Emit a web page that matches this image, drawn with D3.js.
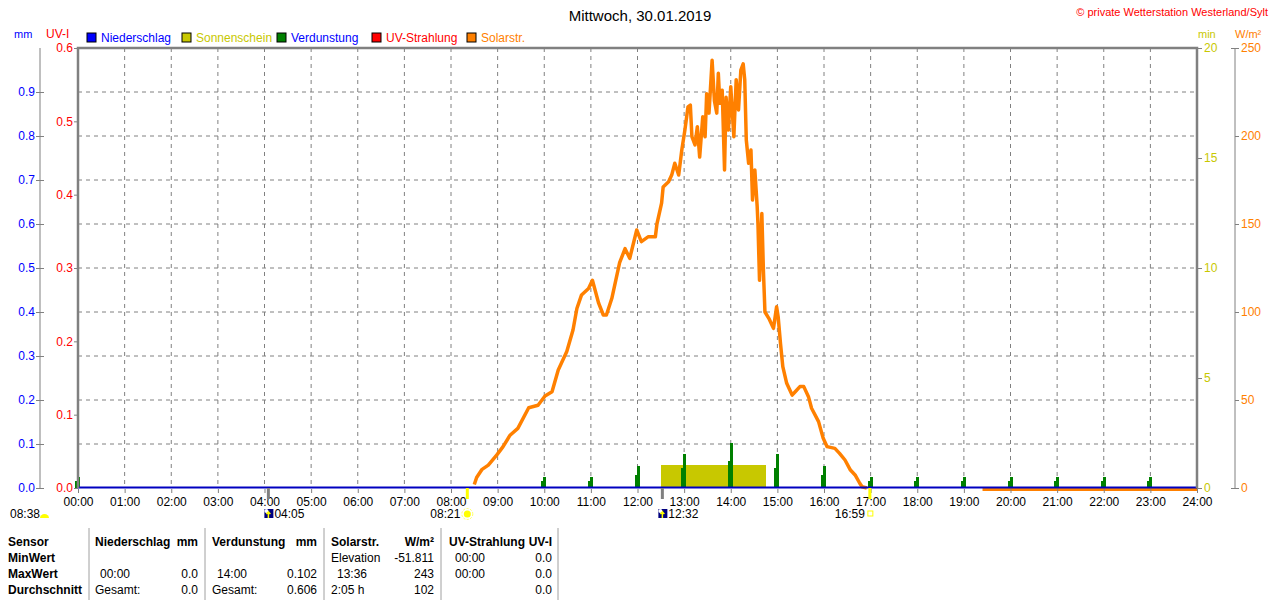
<!DOCTYPE html>
<html>
<head>
<meta charset="utf-8">
<script src="https://cdn.jsdelivr.net/npm/d3@7"></script>
<style>
  body { margin: 0; background: #fff; }
  svg { display: block; font-family: "Liberation Sans", Arial, sans-serif; }
  .grid line { stroke: #808080; stroke-dasharray: 4,4; }
  .tbl { font-size: 12px; fill: #000; }
  .tbl.b { font-weight: bold; }
</style>
</head>
<body>
<svg id="chart" width="1280" height="600"></svg>
<script>
// Solar radiation W/m² (time, value)
const solarTimes = ["08:30","08:33","08:40","08:48","08:59","09:07","09:16","09:26","09:40","09:52",
  "10:01","10:10","10:18","10:29","10:37","10:42","10:48","10:57","11:02","11:10","11:16","11:20",
  "11:27","11:33","11:37","11:44","11:50","11:59","12:05","12:14","12:23","12:25","12:31","12:33",
  "12:40","12:44","12:48","12:53","12:57","13:01","13:05","13:08","13:10","13:14","13:17","13:20",
  "13:24","13:27","13:29","13:32","13:36","13:39","13:42","13:44","13:46","13:49","13:52","13:54",
  "13:57","14:00","14:04","14:07","14:10","14:13","14:16","14:18","14:20","14:23","14:26","14:28",
  "14:31","14:34","14:35","14:37","14:40","14:42","14:44","14:49","14:53","14:55","14:59","15:01",
  "15:04","15:07","15:12","15:19","15:23","15:29","15:34","15:40","15:44","15:53","15:59","16:04",
  "16:14","16:20","16:27","16:34","16:40","16:46","16:49","16:55"];
const solarValues = [2,6,10.6,13,18.8,23.5,30,33.9,45.6,47,
  52.3,54.7,67,77.5,89.8,102,109.7,113.4,118,105,98.3,98.3,
  107.8,120,128,136,130.5,146.6,140,142.8,142.8,150,161.8,171,
  174,177.8,184.5,177.8,192,203.4,216.6,217.6,199.6,194.9,205.3,188,
  211,199.6,224,213,243,220,213,235.6,218.6,226,180.7,222,
  203.4,228,199.6,232,214.8,237.5,241,232,197.7,184.5,192,163.6,
  180.7,160,150.4,118,156,123.9,100,96.4,92.6,90.7,103,97.3,
  82.2,69,59.5,52.8,54.7,57.6,57.6,51.9,45.3,37.7,28.2,23.5,
  22.5,19.7,15.9,10.2,7.4,2.7,0.7,0];
const solarNightTimes = ["19:24","24:00"];
const solarNightValues = [0,0];

// Verdunstung mm (hourly)
const evapTimes = ["00:00","10:00","11:00","12:00","13:00","14:00","15:00","16:00",
  "17:00","18:00","19:00","20:00","21:00","22:00","23:00"];
const evapValues = [0.025,0.025,0.025,0.05,0.077,0.102,0.077,0.05,
  0.025,0.025,0.025,0.025,0.025,0.025,0.025];

// Sonnenschein min (15-min bins)
const sunTimes = ["12:30","12:45","13:00","13:15","13:30","13:45","14:00","14:15","14:30"];
const sunValues = [1.05,1.05,1.05,1.05,1.05,1.05,1.05,1.05,1.05];
const sunBin = 15;

// Niederschlag / UV over whole day
const rainTimes = ["00:00","24:00"];
const rainValues = [0,0];

const hourLabels = d3.range(0, 25).map(h => String(h).padStart(2, "0") + ":00");
const mmTicks = [0,0.1,0.2,0.3,0.4,0.5,0.6,0.7,0.8,0.9];
const uvTicks = [0,0.1,0.2,0.3,0.4,0.5,0.6];
const minTicks = [0,5,10,15,20];
const wTicks = [0,50,100,150,200,250];

const legend = [
  { name: "Niederschlag", box: "#0000ff", text: "#0000ff" },
  { name: "Sonnenschein", box: "#c8c800", text: "#c8c800" },
  { name: "Verdunstung", box: "#008000", text: "#0000ff" },
  { name: "UV-Strahlung", box: "#ff0000", text: "#ff0000" },
  { name: "Solarstr.", box: "#ff8000", text: "#ff8000" }
];

function toMin(s) {
  const p = s.split(":");
  return +p[0] * 60 + +p[1];
}

const svg = d3.select("#chart");
const L = 78, R = 1197, T = 48, B = 488;

const x = d3.scaleLinear().domain([0, 1440]).range([L, R]);
const yW = d3.scaleLinear().domain([0, 250]).range([B, T]);
const yMm = d3.scaleLinear().domain([0, 1]).range([B, T]);
const yUV = d3.scaleLinear().domain([0, 0.6]).range([B, T]);
const yMin = d3.scaleLinear().domain([0, 20]).range([B, T]);

// grid
const grid = svg.append("g").attr("class", "grid");
grid.selectAll(".v").data(d3.range(60, 1440, 60)).enter().append("line")
  .attr("x1", d => x(d)).attr("x2", d => x(d)).attr("y1", T).attr("y2", B);
grid.selectAll(".h").data(d3.range(1, 10).map(d => d / 10)).enter().append("line")
  .attr("x1", L).attr("x2", R).attr("y1", d => yMm(d)).attr("y2", d => yMm(d));

// sunshine bars
svg.append("g").attr("shape-rendering", "crispEdges")
  .selectAll("rect").data(sunTimes).enter().append("rect")
  .attr("x", d => x(toMin(d)))
  .attr("width", d => x(toMin(d) + sunBin) - x(toMin(d)) + 0.6)
  .attr("y", (d, i) => yMin(sunValues[i]))
  .attr("height", (d, i) => B - yMin(sunValues[i]))
  .attr("fill", "#c8c800");

// evaporation bars
const evap = svg.append("g").attr("shape-rendering", "crispEdges");
evap.selectAll(".lo").data(evapTimes).enter().append("rect")
  .attr("x", d => x(toMin(d)) - 3).attr("width", 3)
  .attr("y", (d, i) => yMm(evapValues[i] * 0.6))
  .attr("height", (d, i) => B - yMm(evapValues[i] * 0.6))
  .attr("fill", "#008000");
evap.selectAll(".hi").data(evapTimes).enter().append("rect")
  .attr("x", d => x(toMin(d)) - 1).attr("width", 3)
  .attr("y", (d, i) => yMm(evapValues[i]))
  .attr("height", (d, i) => B - yMm(evapValues[i]))
  .attr("fill", "#008000");

// solar line
const line = d3.line().x(d => x(toMin(d[0]))).y(d => yW(d[1]));
svg.append("path")
  .datum(solarTimes.map((t, i) => [t, solarValues[i]]))
  .attr("d", line).attr("fill", "none").attr("stroke", "#ff8000")
  .attr("stroke-width", 3.5).attr("stroke-linejoin", "round");
svg.append("path")
  .datum(solarNightTimes.map((t, i) => [t, solarNightValues[i]]))
  .attr("d", d3.line().x(d => x(toMin(d[0]))).y(d => yW(d[1]) + 1.5))
  .attr("fill", "none").attr("stroke", "#ff8000").attr("stroke-width", 3);

// rain line
svg.append("path")
  .datum(rainTimes.map((t, i) => [t, rainValues[i]]))
  .attr("d", d3.line().x(d => x(toMin(d[0]))).y(d => yMm(d[1]) - 0.5))
  .attr("fill", "none").attr("stroke", "#0000c0").attr("stroke-width", 2);

// frame
svg.append("path")
  .attr("d", `M${L},${B}V${T}H${R}V${B}`)
  .attr("fill", "none").attr("stroke", "#808080").attr("stroke-width", 2.5);

// x axis
const xAxis = svg.append("g").attr("transform", `translate(0,${B + 1})`)
  .call(d3.axisBottom(x).tickValues(d3.range(0, 1441, 60)).tickSize(4).tickSizeOuter(0)
    .tickFormat((d, i) => hourLabels[i]));
xAxis.select(".domain").remove();
xAxis.selectAll("line").attr("stroke", "#808080");
xAxis.selectAll("text").attr("fill", "#000").attr("font-size", 12).attr("dy", 10)
  .attr("font-family", "Liberation Sans, Arial, sans-serif");

function styleAxis(g, color) {
  g.selectAll("line").attr("stroke", "#808080");
  g.select(".domain").attr("stroke", "#808080");
  g.selectAll("text").attr("fill", color).attr("font-size", 12)
    .attr("font-family", "Liberation Sans, Arial, sans-serif");
}

// mm axis
const mmAxis = svg.append("g").attr("transform", "translate(40,0)")
  .call(d3.axisRight(yMm).tickValues(mmTicks).tickSize(4).tickSizeOuter(0)
    .tickFormat(d3.format(".1f")));
mmAxis.select(".domain").attr("d", `M0,${T}V${B}`);
mmAxis.selectAll(".tick line").attr("x1", -4);
mmAxis.selectAll(".tick text").attr("x", -5).attr("text-anchor", "end");
styleAxis(mmAxis, "#0000ff");

// UV axis
const uvAxis = svg.append("g").attr("transform", `translate(${L},0)`)
  .call(d3.axisLeft(yUV).tickValues(uvTicks).tickSize(4).tickSizeOuter(0)
    .tickFormat(d3.format(".1f")));
uvAxis.select(".domain").remove();
uvAxis.selectAll(".tick text").attr("x", -5);
styleAxis(uvAxis, "#ff0000");

// min axis
const minAxis = svg.append("g").attr("transform", `translate(${R},0)`)
  .call(d3.axisRight(yMin).tickValues(minTicks).tickSize(5).tickSizeOuter(0));
minAxis.select(".domain").remove();
minAxis.selectAll(".tick text").attr("x", 7);
styleAxis(minAxis, "#c8c800");

// W/m² axis
const wAxis = svg.append("g").attr("transform", "translate(1235,0)")
  .call(d3.axisRight(yW).tickValues(wTicks).tickSize(4).tickSizeOuter(0));
wAxis.select(".domain").attr("d", `M0,${T}V${B}`);
wAxis.selectAll(".tick line").filter(d => d === 0 || d === 250).attr("x1", -4);
wAxis.selectAll(".tick text").attr("x", 6);
styleAxis(wAxis, "#ff8000");

// titles / units
svg.append("text").attr("x", 640).attr("y", 21).attr("text-anchor", "middle")
  .attr("font-size", 15).text("Mittwoch, 30.01.2019");
svg.append("text").attr("x", 1268).attr("y", 16).attr("text-anchor", "end")
  .attr("font-size", 11).attr("fill", "#ff0000").text("© private Wetterstation Westerland/Sylt");
svg.append("text").attr("x", 14).attr("y", 38).attr("font-size", 11).attr("fill", "#0000ff").text("mm");
svg.append("text").attr("x", 46).attr("y", 38).attr("font-size", 12).attr("fill", "#ff0000").text("UV-I");
svg.append("text").attr("x", 1198).attr("y", 38).attr("font-size", 11).attr("fill", "#c8c800").text("min");
svg.append("text").attr("x", 1235).attr("y", 38).attr("font-size", 11).attr("fill", "#ff8000").text("W/m²");

// legend
const legX = [87, 182, 277, 372, 467];
const lg = svg.append("g").selectAll("g").data(legend).enter().append("g")
  .attr("transform", (d, i) => `translate(${legX[i]},33)`);
lg.append("rect").attr("width", 9).attr("height", 9).attr("fill", d => d.box)
  .attr("stroke", "#000").attr("stroke-width", 1);
lg.append("text").attr("x", 14).attr("y", 9).attr("font-size", 12)
  .attr("fill", d => d.text).text(d => d.name);

// sun / moon events
const events = [
  { t: "04:05", color: "#808080", label: "04:05", icon: "moon" },
  { t: "08:21", color: "#ffff00", label: "08:21", icon: "sun" },
  { t: "12:32", color: "#808080", label: "12:32", icon: "moon" },
  { t: "16:59", color: "#ffff00", label: "16:59", icon: "set" }
];
const ev = svg.append("g");
events.forEach(e => {
  const ex = x(toMin(e.t));
  ev.append("line").attr("x1", ex).attr("x2", ex).attr("y1", B).attr("y2", B + 11)
    .attr("stroke", e.color).attr("stroke-width", 3);
  if (e.icon === "moon") {
    ev.append("rect").attr("x", ex - 4).attr("y", 509).attr("width", 9).attr("height", 9).attr("fill", "#000080");
    ev.append("circle").attr("cx", ex - 2).attr("cy", 511).attr("r", 2).attr("fill", "#fff");
    ev.append("path").attr("d", `M${ex},${518}V${512}l-2,2M${ex},${512}l2,2`)
      .attr("stroke", "#ffff00").attr("stroke-width", 1.5).attr("fill", "none");
    ev.append("text").attr("x", ex + 6).attr("y", 518).attr("font-size", 12).text(e.label);
  } else if (e.icon === "sun") {
    ev.append("circle").attr("cx", ex).attr("cy", 514).attr("r", 3.5).attr("fill", "#ffff00");
    ev.append("circle").attr("cx", ex).attr("cy", 514).attr("r", 5.5).attr("fill", "none")
      .attr("stroke", "#ffff60").attr("stroke-width", 1).attr("stroke-dasharray", "2,1.5");
    ev.append("text").attr("x", ex - 7).attr("y", 518).attr("text-anchor", "end").attr("font-size", 12).text(e.label);
  } else {
    ev.append("rect").attr("x", ex - 2).attr("y", 511).attr("width", 5).attr("height", 5)
      .attr("fill", "none").attr("stroke", "#ffff00").attr("stroke-width", 1);
    ev.append("text").attr("x", ex - 5).attr("y", 518).attr("text-anchor", "end").attr("font-size", 12).text(e.label);
  }
});
svg.append("text").attr("x", 10).attr("y", 518).attr("font-size", 12).text("08:38");
svg.append("path").attr("d", "M40,518 a4.5,4 0 0 1 9,0 Z").attr("fill", "#ffff00");

// table
const colSep = [89, 205, 324, 441, 558];
svg.append("g").selectAll("line").data(colSep).enter().append("line")
  .attr("x1", d => d).attr("x2", d => d).attr("y1", 528).attr("y2", 600)
  .attr("stroke", "#a0a0a0").attr("stroke-width", 1);

const rowY = [546, 562, 578, 594];
const cells = [
  [0, 8, "start", "Sensor", 1], [0, 95, "start", "Niederschlag", 1], [0, 198, "end", "mm", 1],
  [0, 212, "start", "Verdunstung", 1], [0, 317, "end", "mm", 1],
  [0, 331, "start", "Solarstr.", 1], [0, 434, "end", "W/m²", 1],
  [0, 449, "start", "UV-Strahlung", 1], [0, 552, "end", "UV-I", 1],
  [1, 8, "start", "MinWert", 1], [1, 331, "start", "Elevation", 0], [1, 434, "end", "-51.811", 0],
  [1, 455, "start", "00:00", 0], [1, 552, "end", "0.0", 0],
  [2, 8, "start", "MaxWert", 1], [2, 100, "start", "00:00", 0], [2, 198, "end", "0.0", 0],
  [2, 217, "start", "14:00", 0], [2, 317, "end", "0.102", 0],
  [2, 337, "start", "13:36", 0], [2, 434, "end", "243", 0],
  [2, 455, "start", "00:00", 0], [2, 552, "end", "0.0", 0],
  [3, 8, "start", "Durchschnitt", 1], [3, 95, "start", "Gesamt:", 0], [3, 198, "end", "0.0", 0],
  [3, 212, "start", "Gesamt:", 0], [3, 317, "end", "0.606", 0],
  [3, 331, "start", "2:05 h", 0], [3, 434, "end", "102", 0], [3, 552, "end", "0.0", 0]
];
svg.append("g").selectAll("text").data(cells).enter().append("text")
  .attr("class", d => d[4] ? "tbl b" : "tbl")
  .attr("x", d => d[1]).attr("y", d => rowY[d[0]])
  .attr("text-anchor", d => d[2])
  .attr("font-size", d => d[4] ? 12 : 11)
  .text(d => d[3]);
</script>
</body>
</html>
